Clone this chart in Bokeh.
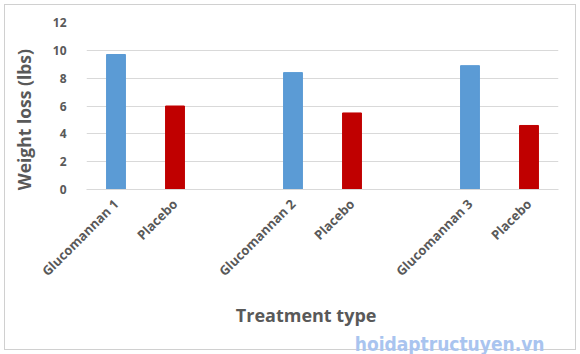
import math
from bokeh.plotting import figure
from bokeh.models import ColumnDataSource, DataRange1d, FixedTicker, Title
from bokeh.embed import file_html
from bokeh.resources import INLINE

# Slots on the category axis; empty strings are the gaps between groups
categories = ["Glucomannan 1", "Placebo", "", "Glucomannan 2", "Placebo", "", "Glucomannan 3", "Placebo"]
weight_loss = [9.7, 6.0, None, 8.4, 5.5, None, 8.9, 4.6]
kinds = ["glucomannan", "placebo", None, "glucomannan", "placebo", None, "glucomannan", "placebo"]
y_ticks = [0, 2, 4, 6, 8, 10, 12]
colors = {"glucomannan": "#5b9bd5", "placebo": "#c00000"}

xs, tops, cols, labels = [], [], [], []
for i, (c, v, k) in enumerate(zip(categories, weight_loss, kinds)):
    if c and v is not None:
        xs.append(i + 0.5)
        tops.append(v)
        cols.append(colors[k])
        labels.append(c)
src = ColumnDataSource(dict(x=xs, top=tops, color=cols))

FONT = "Open Sans"
TXT = "#595959"

p = figure(width=580, height=354, output_backend="svg", toolbar_location=None,
           x_range=DataRange1d(start=0, end=len(categories)),
           y_range=DataRange1d(start=0, end=12),
           min_border_left=86, min_border_right=22, min_border_top=22, min_border_bottom=164)
p.styles = {"outline": "1px solid #d0d0d0", "outline-offset": "-5px"}
p.outline_line_color = None
p.background_fill_color = "white"
p.border_fill_alpha = 0

p.vbar(x="x", top="top", width=0.32, color="color", source=src)

# x axis
xax = p.below[0]
xax.ticker = FixedTicker(ticks=xs)
xax.major_label_overrides = {x: c for x, c in zip(xs, labels)}
xax.major_label_orientation = math.pi / 4
xax.axis_line_color = "#d9d9d9"
xax.major_tick_line_color = None
xax.minor_tick_line_color = None
xax.major_label_text_font = FONT
xax.major_label_text_font_style = "bold"
xax.major_label_text_font_size = "13px"
xax.major_label_text_color = TXT
xax.major_label_standoff = 6
xax.axis_label = "Treatment type" + "\u00a0" * 7
xax.axis_label_text_font = FONT
xax.axis_label_text_font_style = "bold"
xax.axis_label_text_font_size = "18px"
xax.axis_label_text_color = TXT
xax.axis_label_standoff = 14

# y axis
yax = p.left[0]
yax.ticker = FixedTicker(ticks=y_ticks)
yax.axis_line_color = None
yax.major_tick_line_color = None
yax.minor_tick_line_color = None
yax.major_label_text_font = FONT
yax.major_label_text_font_style = "bold"
yax.major_label_text_font_size = "12px"
yax.major_label_text_color = TXT
yax.major_label_standoff = 14
yax.axis_label = "Weight loss (lbs)" + "\u00a0" * 6
yax.axis_label_text_font = FONT
yax.axis_label_text_font_style = "bold"
yax.axis_label_text_font_size = "17.5px"
yax.axis_label_text_color = TXT
yax.axis_label_standoff = 14

p.xgrid.grid_line_color = None
p.ygrid.grid_line_color = "#d9d9d9"

# watermark
p.add_layout(Title(text="hoidaptructuyen.vn", align="right", offset=14, standoff=0,
                   text_font="DejaVu Sans Condensed", text_font_style="bold",
                   text_font_size="19px", text_color="#a9c4ef"), "below")

open("out.html", "w").write(file_html(p, INLINE))
